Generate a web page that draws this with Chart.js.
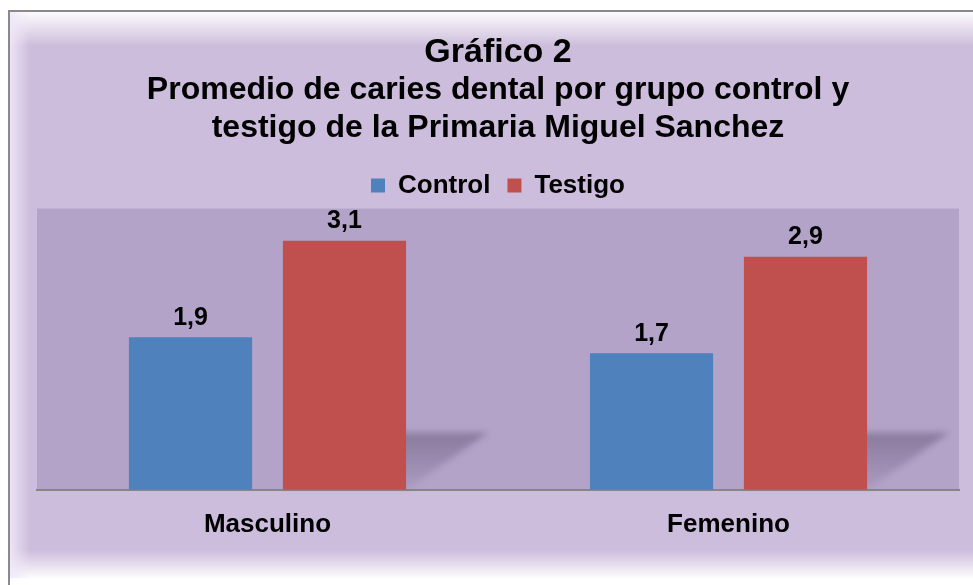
<!DOCTYPE html>
<html>
<head>
<meta charset="utf-8">
<script src="https://cdn.jsdelivr.net/npm/chart.js@4"></script>
<style>
  body { margin: 0; background: #fff; }
  #wrap { width: 973px; height: 585px; }
</style>
</head>
<body>
<div id="wrap"><canvas id="chart" width="973" height="585"></canvas></div>
<script>
// data
const categories = ['Masculino', 'Femenino'];
const seriesNames = ['Control', 'Testigo'];
const controlValues = [1.9, 1.7];
const testigoValues = [3.1, 2.9];
const yMax = 3.5;

const titleText = 'Gráfico 2';
const subtitleLines = [
  'Promedio de caries dental por grupo control y',
  'testigo de la Primaria Miguel Sanchez'
];

const FONT = '"Liberation Sans", Arial, sans-serif';

// frame + lavender background
const backgroundPlugin = {
  id: 'bg',
  beforeDraw(chart) {
    const c = chart.ctx;
    const W = chart.width, H = chart.height;
    c.save();
    c.fillStyle = '#ffffff';
    c.fillRect(0, 0, W, H);
    c.fillStyle = '#cdbddc';
    c.fillRect(10, 12, W - 10, 566);
    let g = c.createLinearGradient(0, 12, 0, 46);
    g.addColorStop(0, 'rgba(255,255,255,0.95)');
    g.addColorStop(1, 'rgba(255,255,255,0)');
    c.fillStyle = g;
    c.fillRect(10, 12, W - 10, 34);
    g = c.createLinearGradient(0, 550, 0, 578);
    g.addColorStop(0, 'rgba(255,255,255,0)');
    g.addColorStop(1, 'rgba(255,255,255,0.95)');
    c.fillStyle = g;
    c.fillRect(10, 550, W - 10, 28);
    g = c.createLinearGradient(10, 0, 30, 0);
    g.addColorStop(0, 'rgba(240,232,248,0.9)');
    g.addColorStop(1, 'rgba(240,232,248,0)');
    c.fillStyle = g;
    c.fillRect(10, 12, 20, 566);
    c.strokeStyle = '#8a8a8a';
    c.lineWidth = 2;
    c.beginPath();
    c.moveTo(9, H);
    c.lineTo(9, 11);
    c.lineTo(W, 11);
    c.stroke();
    // plot area
    const a = chart.chartArea;
    c.fillStyle = '#b3a3c8';
    c.fillRect(a.left, a.top, a.right - a.left, a.bottom - a.top);
    c.restore();
  }
};

// soft perspective shadow behind the right bar of each group
const shadowPlugin = {
  id: 'barShadow',
  beforeDatasetsDraw(chart) {
    const c = chart.ctx;
    const meta = chart.getDatasetMeta(1);
    c.save();
    c.filter = 'blur(3px)';
    meta.data.forEach(bar => {
      const half = bar.width / 2;
      const base = bar.base;
      const dx = 82, dy = 57;
      const g = c.createLinearGradient(0, base, 0, base - dy);
      g.addColorStop(0, 'rgba(110,95,130,0.1)');
      g.addColorStop(1, 'rgba(110,95,130,0.6)');
      c.fillStyle = g;
      c.beginPath();
      c.moveTo(bar.x - half, base);
      c.lineTo(bar.x + half, base);
      c.lineTo(bar.x + half + dx, base - dy);
      c.lineTo(bar.x - half + dx, base - dy);
      c.closePath();
      c.fill();
    });
    c.restore();
  }
};

// value labels above bars
const valueLabelPlugin = {
  id: 'valueLabels',
  afterDatasetsDraw(chart) {
    const c = chart.ctx;
    c.save();
    c.font = 'bold 25px ' + FONT;
    c.fillStyle = '#000';
    c.textAlign = 'center';
    c.textBaseline = 'bottom';
    chart.data.datasets.forEach((ds, i) => {
      chart.getDatasetMeta(i).data.forEach((bar, j) => {
        const txt = ds.data[j].toFixed(1).replace('.', ',');
        c.fillText(txt, bar.x, bar.y - 7);
      });
    });
    c.restore();
  }
};

new Chart(document.getElementById('chart'), {
  type: 'bar',
  data: {
    labels: categories,
    datasets: [
      { label: seriesNames[0], data: controlValues, backgroundColor: '#4f81bd' },
      { label: seriesNames[1], data: testigoValues, backgroundColor: '#c0504d' }
    ]
  },
  options: {
    responsive: false,
    animation: false,
    layout: { padding: { top: 34, left: 37, right: 14, bottom: 26 } },
    datasets: { bar: { categoryPercentage: 0.668, barPercentage: 0.8 } },
    plugins: {
      title: {
        display: true,
        text: titleText,
        color: '#000',
        font: { family: FONT, size: 34, weight: 'bold', lineHeight: 1.1 },
        padding: 0
      },
      subtitle: {
        display: true,
        text: subtitleLines,
        color: '#000',
        font: { family: FONT, size: 32, weight: 'bold', lineHeight: 1.19 },
        padding: { top: 0, bottom: 8 }
      },
      legend: {
        display: true,
        labels: {
          color: '#000',
          boxWidth: 14,
          boxHeight: 14,
          padding: 17,
          font: { family: FONT, size: 26, weight: 'bold' }
        }
      },
      tooltip: { enabled: false }
    },
    scales: {
      x: {
        grid: { display: false, drawTicks: false },
        border: { display: true, color: '#868686', width: 2 },
        ticks: { color: '#000', padding: 19, font: { family: FONT, size: 26, weight: 'bold' } }
      },
      y: {
        display: false,
        min: 0,
        max: yMax
      }
    }
  },
  plugins: [backgroundPlugin, shadowPlugin, valueLabelPlugin]
});
</script>
</body>
</html>
